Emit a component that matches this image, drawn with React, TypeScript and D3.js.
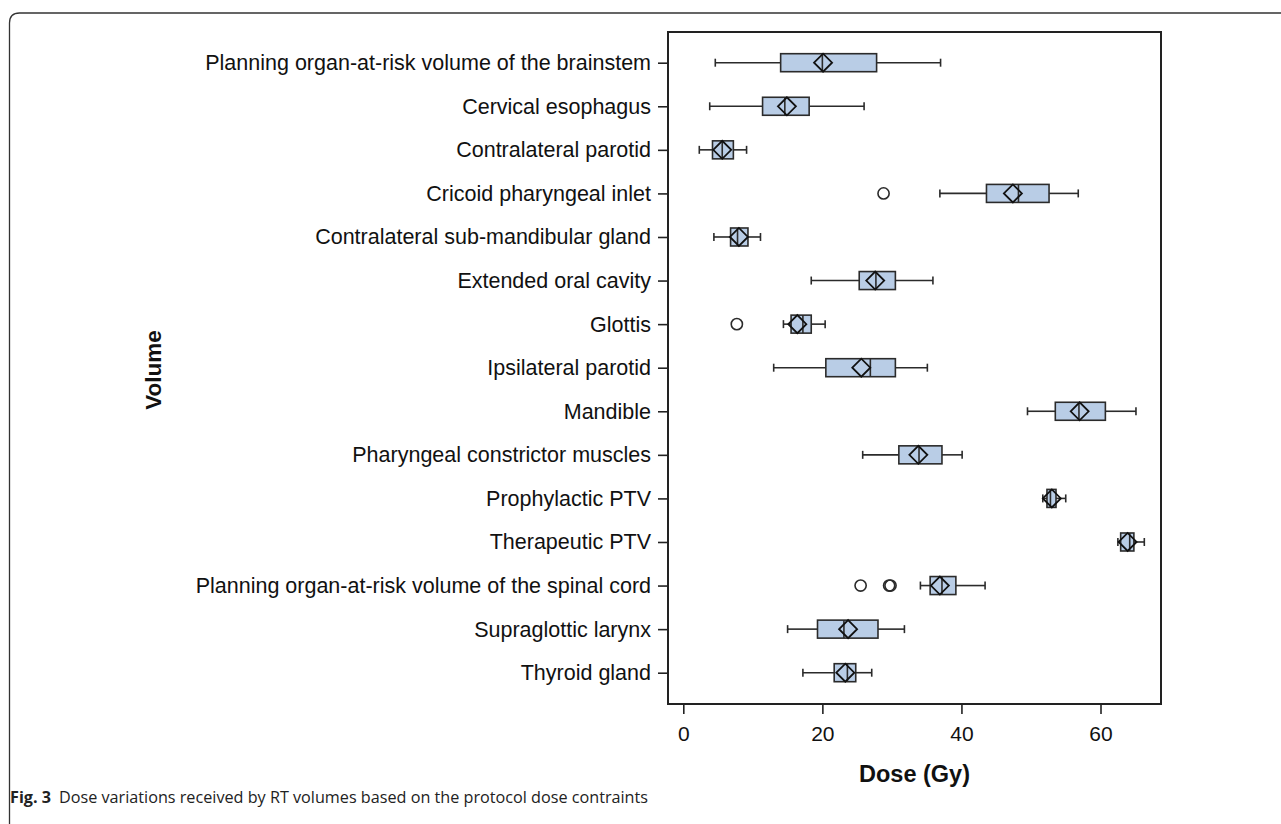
import React, { useEffect, useRef } from "react";
import * as d3 from "d3";

var categories = [
  "Planning organ-at-risk volume of the brainstem",
  "Cervical esophagus",
  "Contralateral parotid",
  "Cricoid pharyngeal inlet",
  "Contralateral sub-mandibular gland",
  "Extended oral cavity",
  "Glottis",
  "Ipsilateral parotid",
  "Mandible",
  "Pharyngeal constrictor muscles",
  "Prophylactic PTV",
  "Therapeutic PTV",
  "Planning organ-at-risk volume of the spinal cord",
  "Supraglottic larynx",
  "Thyroid gland"
];

var whiskerLow = [4.6, 3.8, 2.3, 36.9, 4.4, 18.4, 14.4, 13.0, 49.5, 25.8, 51.7, 62.5, 34.1, 15.0, 17.2];
var q1 = [14.0, 11.4, 4.2, 43.6, 6.8, 25.3, 15.5, 20.5, 53.5, 31.0, 52.3, 62.9, 35.5, 19.3, 21.7];
var median = [20.0, 14.6, 5.6, 48.2, 7.8, 27.7, 17.2, 26.9, 56.9, 33.9, 52.8, 64.2, 37.2, 23.1, 23.6];
var q3 = [27.8, 18.1, 7.2, 52.6, 9.3, 30.5, 18.4, 30.5, 60.7, 37.2, 53.6, 64.8, 39.2, 28.0, 24.8];
var whiskerHigh = [37.0, 26.0, 9.1, 56.8, 11.1, 35.9, 20.4, 35.1, 65.1, 40.1, 55.0, 66.3, 43.4, 31.8, 27.1];
var mean = [20.1, 14.9, 5.6, 47.4, 8.0, 27.6, 16.4, 25.6, 57.0, 33.8, 53.0, 63.9, 36.9, 23.7, 23.3];

// outliers: [category index, value]
var outliers = [
  [3, 28.8],
  [6, 7.7],
  [12, 25.5],
  [12, 29.6],
  [12, 29.8]
];

var xTicks = [0, 20, 40, 60];

var W = 1281;
var H = 824;

export default function App() {
  var ref = useRef<SVGSVGElement>(null);

  useEffect(() => {
    var svg = d3.select(ref.current);
    svg.selectAll("*").remove();

    var left = 668,
      right = 1161,
      top = 32,
      bottom = 704;

    var x = d3.scaleLinear().domain([-2.2, 68.7]).range([left, right]);
    var y = d3.scalePoint().domain(categories).range([62.7, 672.7]);

    var boxH = 18;
    var capH = 8;
    var dia = 9;
    var ink = "#2b2b2b";
    var font = "'Liberation Sans', Arial, sans-serif";

    // outer figure border
    svg
      .append("path")
      .attr("d", "M9.5," + H + " L9.5,23 Q9.5,13 19.5,13 L" + W + ",13")
      .attr("fill", "none")
      .attr("stroke", "#333")
      .attr("stroke-width", 1.3);

    var data = categories.map((c, i) => ({
      c,
      lo: whiskerLow[i],
      q1: q1[i],
      med: median[i],
      q3: q3[i],
      hi: whiskerHigh[i],
      mean: mean[i]
    }));

    var g = svg.append("g");
    var rows = g
      .selectAll(".row")
      .data(data)
      .enter()
      .append("g")
      .attr("transform", d => "translate(0," + y(d.c) + ")");

    // whiskers
    rows
      .append("line")
      .attr("x1", d => x(d.lo))
      .attr("x2", d => x(d.q1))
      .attr("stroke", ink)
      .attr("stroke-width", 1.6);
    rows
      .append("line")
      .attr("x1", d => x(d.q3))
      .attr("x2", d => x(d.hi))
      .attr("stroke", ink)
      .attr("stroke-width", 1.6);
    rows
      .append("line")
      .attr("x1", d => x(d.lo))
      .attr("x2", d => x(d.lo))
      .attr("y1", -capH / 2)
      .attr("y2", capH / 2)
      .attr("stroke", ink)
      .attr("stroke-width", 1.6);
    rows
      .append("line")
      .attr("x1", d => x(d.hi))
      .attr("x2", d => x(d.hi))
      .attr("y1", -capH / 2)
      .attr("y2", capH / 2)
      .attr("stroke", ink)
      .attr("stroke-width", 1.6);

    // box
    rows
      .append("rect")
      .attr("x", d => x(d.q1))
      .attr("y", -boxH / 2)
      .attr("width", d => x(d.q3) - x(d.q1))
      .attr("height", boxH)
      .attr("fill", "#b9cde6")
      .attr("stroke", ink)
      .attr("stroke-width", 1.6);

    // median
    rows
      .append("line")
      .attr("x1", d => x(d.med))
      .attr("x2", d => x(d.med))
      .attr("y1", -boxH / 2)
      .attr("y2", boxH / 2)
      .attr("stroke", ink)
      .attr("stroke-width", 1.6);

    // mean diamond
    rows
      .append("path")
      .attr("d", d => {
        var cx = x(d.mean);
        return (
          "M" + (cx - dia) + ",0 L" + cx + "," + -dia + " L" + (cx + dia) + ",0 L" + cx + "," + dia + " Z"
        );
      })
      .attr("fill", "none")
      .attr("stroke", "#111")
      .attr("stroke-width", 1.8);

    // outliers
    g.selectAll(".out")
      .data(outliers)
      .enter()
      .append("circle")
      .attr("cx", d => x(d[1]))
      .attr("cy", d => y(categories[d[0]]))
      .attr("r", 5.6)
      .attr("fill", "none")
      .attr("stroke", ink)
      .attr("stroke-width", 1.6);

    // frame
    svg
      .append("rect")
      .attr("x", left)
      .attr("y", top)
      .attr("width", right - left)
      .attr("height", bottom - top)
      .attr("fill", "none")
      .attr("stroke", "#222")
      .attr("stroke-width", 2);

    // axes
    var xAxis = svg
      .append("g")
      .attr("transform", "translate(0," + bottom + ")")
      .call(d3.axisBottom(x).tickValues(xTicks).tickSize(10).tickPadding(12).tickSizeOuter(0));
    xAxis.select(".domain").remove();
    xAxis.selectAll("line").attr("stroke", "#222").attr("stroke-width", 1.6);
    xAxis.selectAll("text").attr("font-family", font).attr("font-size", 21).attr("fill", "#111");

    var yAxis = svg
      .append("g")
      .attr("transform", "translate(" + left + ",0)")
      .call(d3.axisLeft(y).tickSize(10).tickPadding(7).tickSizeOuter(0));
    yAxis.select(".domain").remove();
    yAxis.selectAll("line").attr("stroke", "#222").attr("stroke-width", 1.6);
    yAxis.selectAll("text").attr("font-family", font).attr("font-size", 21.5).attr("fill", "#111");

    // axis titles
    svg
      .append("text")
      .attr("x", (left + right) / 2)
      .attr("y", 781.7)
      .attr("text-anchor", "middle")
      .attr("font-family", font)
      .attr("font-weight", "bold")
      .attr("font-size", 23.5)
      .attr("fill", "#111")
      .text("Dose (Gy)");

    svg
      .append("text")
      .attr("transform", "translate(161,370) rotate(-90)")
      .attr("text-anchor", "middle")
      .attr("font-family", font)
      .attr("font-weight", "bold")
      .attr("font-size", 22.5)
      .attr("fill", "#111")
      .text("Volume");

    // caption
    var cap = svg
      .append("text")
      .attr("x", 10)
      .attr("y", 803)
      .attr("font-family", "'Open Sans', sans-serif")
      .attr("font-size", 16.2)
      .attr("fill", "#222");
    cap.append("tspan").attr("font-weight", "bold").text("Fig. 3");
    cap.append("tspan").attr("dx", 8).text("Dose variations received by RT volumes based on the protocol dose contraints");
  }, []);

  return (
    <svg
      ref={ref}
      width={W}
      height={H}
      style={{ position: "absolute", left: 0, top: 0, background: "#fff" }}
    />
  );
}
